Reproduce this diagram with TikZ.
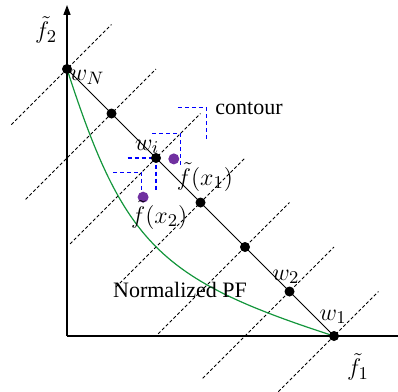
\documentclass[tikz,border=0pt]{standalone}
\usepackage{fontspec}
\setmainfont{Liberation Serif}
\usepackage{xcolor}
\definecolor{pfgreen}{RGB}{20,150,60}
\definecolor{solpurple}{RGB}{112,48,160}
\usepackage{tikz}
\usetikzlibrary{arrows.meta, calc}

\begin{document}
\begin{tikzpicture}[x=22.25pt, y=22.25pt,
  axis/.style={line width=0.65pt},
  wline/.style={line width=0.5pt},
  refline/.style={line width=0.4pt, dash pattern=on 1.6pt off 1.1pt},
  contourline/.style={blue, line width=0.6pt, dash pattern=on 2pt off 1.5pt},
  wdot/.style={circle, fill=black, inner sep=0pt, minimum size=5pt},
  soldot/.style={circle, fill=solpurple, inner sep=0pt, minimum size=5.5pt},
  lbl/.style={font=\fontsize{11}{13}\selectfont, inner sep=1pt},
  mlbl/.style={font=\fontsize{12.5}{14}\selectfont, inner sep=1pt}
]
\useasboundingbox (-1.506,-1.258) rectangle (7.438,7.551);

% Weight vectors
\foreach \k in {1,...,7}
  \coordinate (w\k) at ({7-\k},{\k-1});

% Reference directions
\foreach \k/\lo in {1/1.25,2/1.95,3/1.95,4/1.9,5/1.93,6/1.93,7/1.25}
  \draw[refline] ([shift={(-\lo,-\lo)}]w\k) -- ([shift={(1,1)}]w\k);

% Axes
\coordinate (o) at (0,0);
\coordinate (xend) at (7.44,0);
\coordinate (yend) at (0,7.44);
\draw[axis] (o) -- (xend);
\draw[axis, -{Triangle[width=3.5pt,length=5pt]}] (o) -- (yend);

% Simplex and PF
\draw[wline] (w7) -- (w1);
\draw[pfgreen, line width=0.6pt] (w7) .. controls (1.27,2.07) and (2.07,1.27) .. (w1);

% Contours
\foreach \d/\n/\v in {1.13/a/0.75,0.55/b/0.7,0/c/0.75,-0.32/d/0.4} {
  \coordinate (c\n) at ($(w5)+(\d,\d)$);
  \draw[contourline] ([shift={(-0.64,0)}]c\n) -- (c\n) -- ([shift={(0,-\v)}]c\n);
}

% Points
\foreach \k in {1,...,7}
  \node[wdot] (d\k) at (w\k) {};
\node[soldot] (fx1) at (2.40,3.98) {};
\node[soldot] (fx2) at (1.71,3.12) {};

% Labels
\node[mlbl] (f2lbl) at (-0.47,6.88) {$\tilde{f}_2$};
\node[mlbl] (f1lbl) at (6.54,-0.70) {$\tilde{f}_1$};
\node[mlbl] (wNlbl) at (0.45,5.82) {$w_N$};
\node[mlbl] (wilbl) at (1.80,4.25) {$w_i$};
\node[mlbl] (w2lbl) at (4.92,1.33) {$w_2$};
\node[mlbl] (w1lbl) at (5.98,0.43) {$w_1$};
\node[mlbl] (fx1lbl) at (3.10,3.57) {$\tilde{f}(x_1)$};
\node[mlbl] (fx2lbl) at (2.07,2.72) {$\tilde{f}(x_2)$};
\node[lbl, anchor=west] (ctlbl) at (3.28,5.12) {contour};
\node[lbl] (pflbl) at (2.54,1.03) {Normalized PF};

\end{tikzpicture}
\end{document}
